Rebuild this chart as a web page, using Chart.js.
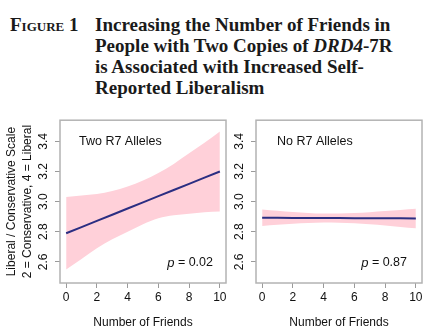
<!DOCTYPE html>
<html><head><meta charset="utf-8">
<script src="https://cdn.jsdelivr.net/npm/chart.js@4.4.0/dist/chart.umd.min.js"></script>
<style>
html,body{margin:0;padding:0;width:430px;height:327px;overflow:hidden;background:#fff;}
.hd{position:absolute;font-family:"Liberation Serif","Times New Roman",serif;font-weight:bold;font-size:19px;line-height:21px;color:#1a1a1a;white-space:nowrap;}
#fig{left:10px;top:14px;font-variant:small-caps;}
#ttl{left:95px;top:14px;}
.cv{position:absolute;}
</style></head><body>
<div class="hd" id="fig">Figure 1</div>
<div class="hd" id="ttl">Increasing the Number of Friends in<br>People with Two Copies of <i>DRD4</i>-7R<br>is Associated with Increased Self-<br>Reported Liberalism</div>
<div class="cv" style="left:0;top:110px;"><canvas id="c1" width="235" height="225"></canvas></div>
<div class="cv" style="left:228px;top:110px;"><canvas id="c2" width="202" height="225"></canvas></div>
<script>
// ---- data ----
const friends = [0, 1, 2, 3, 4, 5, 6, 7, 8, 9, 10];
const twoFit   = [2.790, 2.831, 2.872, 2.913, 2.954, 2.995, 3.036, 3.077, 3.118, 3.159, 3.200];
const twoUpper = [3.03, 3.04, 3.05, 3.07, 3.10, 3.14, 3.19, 3.25, 3.32, 3.39, 3.465];
const twoLower = [2.55, 2.62, 2.69, 2.75, 2.80, 2.85, 2.89, 2.91, 2.92, 2.93, 2.935];
const noFit    = [2.893, 2.893, 2.892, 2.892, 2.891, 2.891, 2.890, 2.890, 2.889, 2.889, 2.888];
const noUpper  = [2.948, 2.939, 2.931, 2.925, 2.921, 2.921, 2.924, 2.930, 2.937, 2.945, 2.953];
const noLower  = [2.838, 2.846, 2.853, 2.858, 2.861, 2.860, 2.856, 2.849, 2.841, 2.832, 2.823];
const xTicks = [0, 2, 4, 6, 8, 10];
const yTicks = [2.6, 2.8, 3.0, 3.2, 3.4];
const yTickLabels = ['2.6', '2.8', '3.0', '3.2', '3.4'];
const panelLabels = ['Two R7 Alleles', 'No R7 Alleles'];
const pValues = ['0.02', '0.87'];
const xTitle = 'Number of Friends';
const yTitle = ['Liberal / Conservative Scale', '2 = Conservative, 4 = Liberal'];

const SANS = '"Liberation Sans", Arial, Helvetica, sans-serif';
const PINK = '#ffd0d9';
const NAVY = '#2b2e82';
const FRAME = '#b3b3b3';

const pts = ys => friends.map((x, i) => ({x: x, y: ys[i]}));

function makePanel(canvasId, fit, upper, lower, idx, withTitle, yWidth, padRight, labelDx, pDx) {
  const framePlugin = {
    id: 'frameText' + idx,
    afterDatasetsDraw(chart) {
      const ctx = chart.ctx, ca = chart.chartArea;
      ctx.save();
      ctx.strokeStyle = FRAME;
      ctx.lineWidth = 1.5;
      ctx.strokeRect(ca.left, ca.top, ca.right - ca.left, ca.bottom - ca.top);
      ctx.fillStyle = '#111';
      ctx.textBaseline = 'middle';
      ctx.textAlign = 'left';
      ctx.font = '12.5px ' + SANS;
      ctx.fillText(panelLabels[idx], ca.left + labelDx, ca.top + 21);
      const rest = ' = ' + pValues[idx];
      ctx.font = 'italic 13px ' + SANS;
      const wp = ctx.measureText('p').width;
      ctx.font = '12.5px ' + SANS;
      const wr = ctx.measureText(rest).width;
      const x0 = ca.right - pDx - wp - wr;
      const yP = ca.bottom - 20;
      ctx.font = 'italic 13px ' + SANS;
      ctx.fillText('p', x0, yP);
      ctx.font = '12.5px ' + SANS;
      ctx.fillText(rest, x0 + wp, yP);
      ctx.restore();
    }
  };
  const tickFont = {family: SANS, size: 12};
  const gridOpts = {display: true, drawOnChartArea: false, drawTicks: true, tickLength: 5, tickColor: '#9a9a9a', tickWidth: 1};
  return new Chart(document.getElementById(canvasId), {
    type: 'line',
    data: {
      datasets: [
        {data: pts(fit), borderColor: NAVY, borderWidth: 2, pointRadius: 0, fill: false, tension: 0},
        {data: pts(upper), borderWidth: 0, borderColor: 'rgba(0,0,0,0)', backgroundColor: PINK, pointRadius: 0, fill: '+1', cubicInterpolationMode: 'monotone'},
        {data: pts(lower), borderWidth: 0, borderColor: 'rgba(0,0,0,0)', pointRadius: 0, fill: false, cubicInterpolationMode: 'monotone'}
      ]
    },
    options: {
      responsive: false,
      animation: false,
      layout: {padding: {left: 0, top: 9, right: padRight, bottom: 0}},
      plugins: {legend: {display: false}, tooltip: {enabled: false}},
      scales: {
        x: {
          type: 'linear', min: -0.4, max: 10.4,
          afterBuildTicks: s => { s.ticks = xTicks.map(v => ({value: v})); },
          afterFit: s => { s.height = 52; },
          ticks: {font: tickFont, color: '#111', padding: 2, maxRotation: 0, autoSkip: false, callback: v => String(v)},
          grid: gridOpts,
          border: {display: false},
          title: {display: true, text: xTitle, font: {family: SANS, size: 12}, color: '#111', padding: {top: 0, bottom: 5}}
        },
        y: {
          type: 'linear', min: 2.46, max: 3.54,
          afterBuildTicks: s => { s.ticks = yTicks.map(v => ({value: v})); },
          afterFit: s => { s.width = yWidth; },
          ticks: {font: tickFont, color: '#111', padding: 3, minRotation: 90, maxRotation: 90, crossAlign: 'center', autoSkip: false,
                  callback: (v, i) => yTickLabels[i]},
          grid: gridOpts,
          border: {display: false},
          title: {display: withTitle, text: yTitle, font: {family: SANS, size: 12, lineHeight: 1.3}, color: '#111', padding: {top: 4, bottom: 0}}
        }
      }
    },
    plugins: [framePlugin]
  });
}

makePanel('c1', twoFit, twoUpper, twoLower, 0, true, 60, 9, 19, 13);
makePanel('c2', noFit, noUpper, noLower, 1, false, 28, 8, 21, 15);
</script>
</body></html>
